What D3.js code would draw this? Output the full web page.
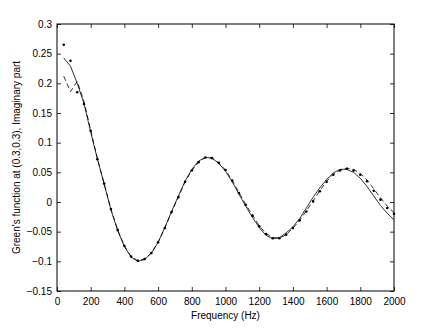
<!DOCTYPE html>
<html>
<head>
<meta charset="utf-8">
<script src="https://cdn.jsdelivr.net/npm/d3@7"></script>
<style>
  body { margin: 0; background: #fff; }
  svg { font-family: "Liberation Sans", Arial, sans-serif; }
  .tick text { font-size: 10px; fill: #000; }
</style>
</head>
<body>
<svg id="chart" width="436" height="328"></svg>
<script>
// frequency grid (Hz)
var freqs = [40, 80, 120, 160, 200, 240, 280, 320, 360, 400, 440, 480, 520, 560, 600, 640, 680, 720, 760, 800,
	840, 880, 920, 960, 1000, 1040, 1080, 1120, 1160, 1200, 1240, 1280, 1320, 1360, 1400, 1440, 1480, 1520, 1560, 1600,
	1640, 1680, 1720, 1760, 1800, 1840, 1880, 1920, 1960, 2000];

// solid curve
var solidVals = [0.243, 0.229, 0.200, 0.166, 0.118, 0.072, 0.030, -0.013, -0.048, -0.075, -0.093, -0.100, -0.097, -0.086, -0.068, -0.043, -0.016, 0.010, 0.035, 0.055,
	0.069, 0.075, 0.074, 0.065, 0.052, 0.034, 0.013, -0.007, -0.026, -0.043, -0.056, -0.062, -0.060, -0.052, -0.042, -0.028, -0.010, 0.008, 0.024, 0.038,
	0.049, 0.055, 0.055, 0.050, 0.040, 0.026, 0.010, -0.006, -0.019, -0.030];

// dashed curve
var dashVals = [0.212, 0.186, 0.203, 0.170, 0.121, 0.073, 0.031, -0.012, -0.047, -0.074, -0.092, -0.099, -0.096, -0.086, -0.068, -0.044, -0.017, 0.008, 0.034, 0.053,
	0.067, 0.075, 0.074, 0.066, 0.054, 0.036, 0.016, -0.004, -0.022, -0.040, -0.053, -0.060, -0.061, -0.055, -0.044, -0.031, -0.015, 0.002, 0.019, 0.035,
	0.047, 0.054, 0.057, 0.055, 0.048, 0.037, 0.022, 0.007, -0.007, -0.018];

// dot markers
var dotVals = [0.265, 0.238, 0.185, 0.165, 0.120, 0.072, 0.031, -0.012, -0.047, -0.074, -0.092, -0.099, -0.096, -0.086, -0.068, -0.044, -0.017, 0.008, 0.034, 0.053,
	0.067, 0.075, 0.074, 0.066, 0.054, 0.036, 0.015, -0.005, -0.023, -0.041, -0.054, -0.061, -0.061, -0.055, -0.044, -0.031, -0.016, 0.001, 0.018, 0.034,
	0.046, 0.053, 0.056, 0.053, 0.046, 0.035, 0.019, 0.004, -0.010, -0.020];

var xTicks = [0, 200, 400, 600, 800, 1000, 1200, 1400, 1600, 1800, 2000];
var yTicks = [-0.15, -0.1, -0.05, 0, 0.05, 0.1, 0.15, 0.2, 0.25, 0.3];
var yTickLabels = ["\u22120.15", "\u22120.1", "\u22120.05", "0", "0.05", "0.1", "0.15", "0.2", "0.25", "0.3"];

var margin = {top: 24, right: 42, bottom: 37, left: 57};
var width = 436 - margin.left - margin.right;
var height = 328 - margin.top - margin.bottom;

var svg = d3.select("#chart");
var g = svg.append("g")
	.attr("transform", "translate(" + margin.left + "," + margin.top + ")");

var x = d3.scaleLinear().domain([0, 2000]).range([0, width]);
var y = d3.scaleLinear().domain([-0.15, 0.3]).range([height, 0]);

function styleAxis(sel) {
	sel.select(".domain").remove();
	sel.selectAll(".tick line").attr("stroke", "#000").attr("stroke-width", 0.8);
}

// bottom and top
g.append("g")
	.attr("transform", "translate(0," + height + ")")
	.call(d3.axisBottom(x).tickValues(xTicks).tickSize(-4).tickPadding(7).tickFormat(d3.format("d")))
	.call(styleAxis);
g.append("g")
	.call(d3.axisTop(x).tickValues(xTicks).tickSize(-4).tickFormat(""))
	.call(styleAxis);

// left and right
g.append("g")
	.call(d3.axisLeft(y).tickValues(yTicks).tickSize(-4).tickPadding(5)
		.tickFormat((d, i) => yTickLabels[i]))
	.call(styleAxis);
g.append("g")
	.attr("transform", "translate(" + width + ",0)")
	.call(d3.axisRight(y).tickValues(yTicks).tickSize(-4).tickFormat(""))
	.call(styleAxis);

// box
g.append("rect")
	.attr("width", width)
	.attr("height", height)
	.attr("fill", "none")
	.attr("stroke", "#000")
	.attr("stroke-width", 1);

var line = d3.line()
	.x(d => x(d[0]))
	.y(d => y(d[1]));

g.append("path")
	.datum(d3.zip(freqs, solidVals))
	.attr("d", line)
	.attr("fill", "none")
	.attr("stroke", "#000")
	.attr("stroke-width", 0.8);

g.append("path")
	.datum(d3.zip(freqs, dashVals))
	.attr("d", line)
	.attr("fill", "none")
	.attr("stroke", "#000")
	.attr("stroke-width", 0.8)
	.attr("stroke-dasharray", "5,3");

g.append("g")
	.selectAll("circle")
	.data(d3.zip(freqs, dotVals))
	.enter()
	.append("circle")
	.attr("cx", d => x(d[0]))
	.attr("cy", d => y(d[1]))
	.attr("r", 1.3)
	.attr("fill", "#000");

// axis titles
svg.append("text")
	.attr("x", margin.left + width / 2)
	.attr("y", 319)
	.attr("text-anchor", "middle")
	.attr("font-size", 10)
	.text("Frequency (Hz)");

svg.append("text")
	.attr("transform", "translate(20," + (margin.top + height / 2) + ") rotate(-90)")
	.attr("text-anchor", "middle")
	.attr("font-size", 10)
	.text("Green's function at (0.3,0.3), Imaginary part");
</script>
</body>
</html>
